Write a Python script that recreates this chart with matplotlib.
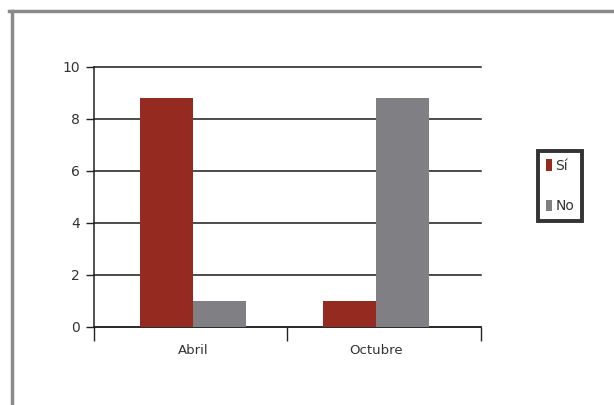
import numpy as np
import matplotlib
matplotlib.use("Agg")
import matplotlib.pyplot as plt
from matplotlib.lines import Line2D

# data
categories = ["Abril", "Octubre"]
series = ["Sí", "No"]
si_values = [8.8, 1.0]
no_values = [1.0, 8.8]
colors = ["#952b20", "#808084"]

fig = plt.figure(figsize=(6.14, 4.05), dpi=100)
ax = fig.add_axes([0.153, 0.193, 0.630, 0.642])

x = np.arange(len(categories))
w = 0.29
ax.bar(x - w/2, si_values, w, color=colors[0], label=series[0], zorder=3)
ax.bar(x + w/2, no_values, w, color=colors[1], label=series[1], zorder=3)

ax.set_ylim(0, 10)
ax.set_yticks([0, 2, 4, 6, 8, 10])
ax.set_xlim(-0.54, 1.57)
# category boundary ticks, labels in the middle of each group
ax.set_xticks([-0.54, 0.515, 1.57])
ax.set_xticklabels([])
ax.set_xticks(x, minor=True)
ax.set_xticklabels(categories, minor=True)
ax.tick_params(axis="x", which="major", direction="out", length=10, width=1, color="#222222")
ax.tick_params(axis="x", which="minor", length=0, pad=12, labelsize=9.5, labelcolor="#333333")
ax.tick_params(axis="y", direction="out", length=6, width=1, color="#222222", labelsize=10, labelcolor="#333333", pad=4)

ax.yaxis.grid(True, color="#1a1a1a", linewidth=1.1, zorder=0)
for gl in ax.get_ygridlines():
    gl.set_clip_on(False)
ax.set_axisbelow(True)
for s in ["top", "right"]:
    ax.spines[s].set_visible(False)
ax.spines["left"].set_color("#222222")
ax.spines["bottom"].set_color("#222222")
ax.spines["left"].set_linewidth(1.1)
ax.spines["bottom"].set_linewidth(1.1)

leg = ax.legend(loc="upper left", bbox_to_anchor=(0.877, 0.627), bbox_transform=fig.transFigure,
                fontsize=10, frameon=True, fancybox=False, handlelength=0.45, handleheight=0.9,
                handletextpad=0.2, borderpad=0.55, labelspacing=1.9, borderaxespad=0)
leg.get_frame().set_edgecolor("black")
leg.get_frame().set_linewidth(2.8)
for t in leg.get_texts():
    t.set_color("#333333")

# outer grey frame (top and left edge of the scanned box)
fig.add_artist(Line2D([0.015, 1.0], [0.972, 0.972], transform=fig.transFigure, color="#8a8a8a", linewidth=2.5))
fig.add_artist(Line2D([0.019, 0.019], [0.0, 0.974], transform=fig.transFigure, color="#8a8a8a", linewidth=2.5))

fig.savefig("out.png", dpi=100)
